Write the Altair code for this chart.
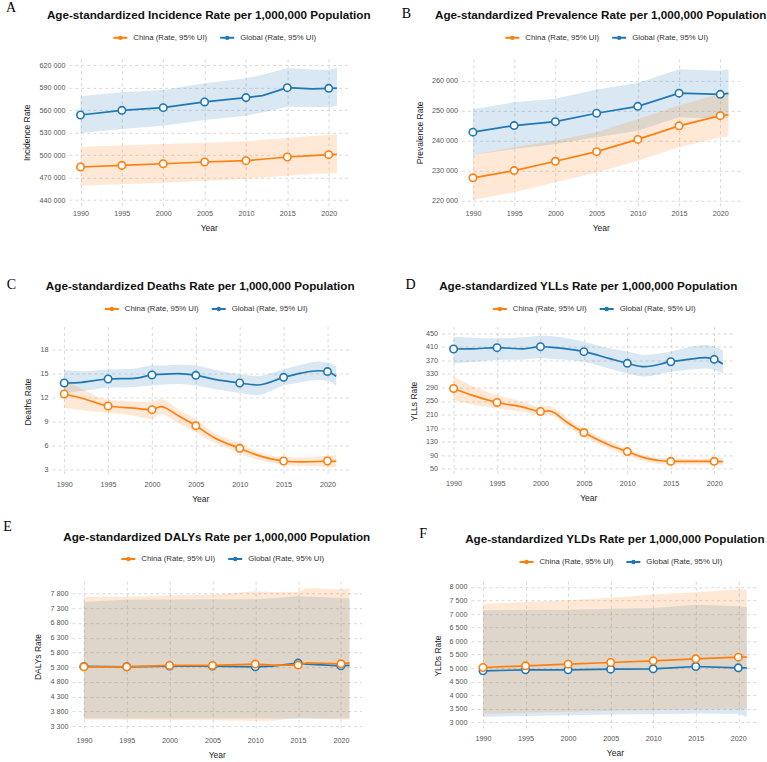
import altair as alt
import pandas as pd

CHINA = "China (Rate, 95% UI)"
GLOBAL = "Global (Rate, 95% UI)"
ORANGE = "#ff7f0e"
BLUE = "#1f77b4"
POINT_YEARS = [1990, 1995, 2000, 2005, 2010, 2015, 2020]
X_TICKS = [1990, 1995, 2000, 2005, 2010, 2015, 2020]

# ---- Incidence
INC_YEARS = [1990, 1995, 2000, 2005, 2010, 2012, 2015, 2018, 2020, 2021]
INC_CHINA = [484100, 486300, 488500, 490800, 492600, 494500, 497500, 499300, 500600, 501000]
INC_CHINA_LO = [459100, 461000, 463100, 465500, 468000, 470000, 472500, 474800, 475500, 476100]
INC_CHINA_HI = [511300, 513000, 514800, 516600, 518400, 520500, 522900, 525500, 526800, 527800]
INC_GLOBAL = [553600, 559800, 563400, 571000, 576800, 579500, 590100, 588500, 589200, 589500]
INC_GLOBAL_LO = [529500, 534900, 539300, 546900, 552700, 557000, 564700, 564000, 563800, 566100]
INC_GLOBAL_HI = [578600, 583900, 587000, 596000, 602200, 607500, 616000, 614500, 613800, 616400]

# ---- Prevalence
PRE_YEARS = [1990, 1995, 2000, 2005, 2010, 2015, 2020, 2021]
PRE_CHINA = [227600, 230000, 233100, 236300, 240400, 244900, 248300, 248600]
PRE_CHINA_LO = [220200, 222800, 226100, 229400, 233300, 237800, 241100, 241300]
PRE_CHINA_HI = [235200, 237800, 240000, 242800, 247200, 251700, 255600, 255800]
PRE_GLOBAL = [242800, 245000, 246300, 249100, 251400, 255800, 255400, 255700]
PRE_GLOBAL_LO = [235200, 237200, 238900, 241100, 243300, 247800, 247200, 247600]
PRE_GLOBAL_HI = [250400, 252800, 253900, 257000, 259200, 263800, 263300, 263800]

# ---- Deaths
DEA_YEARS = [1990, 1992, 1995, 1998, 2000, 2001, 2003, 2005, 2007, 2010, 2012, 2015, 2017, 2019, 2020, 2021]
DEA_CHINA = [12.43, 11.9, 10.92, 10.65, 10.46, 10.85, 9.7, 8.45, 7.0, 5.6, 4.75, 4.01, 3.9, 3.95, 4.01, 3.97]
DEA_CHINA_LO = [10.7, 10.4, 10.1, 9.7, 9.3, 9.9, 8.8, 7.6, 6.4, 5.0, 4.2, 3.55, 3.4, 3.35, 3.3, 3.25]
DEA_CHINA_HI = [14.1, 13.1, 11.7, 11.5, 11.4, 11.8, 10.5, 9.2, 7.6, 6.27, 5.2, 4.5, 4.45, 4.6, 4.7, 4.75]
DEA_GLOBAL = [13.81, 13.9, 14.31, 14.4, 14.82, 14.9, 14.98, 14.77, 14.3, 13.81, 13.56, 14.52, 15.05, 15.35, 15.24, 14.65]
DEA_GLOBAL_LO = [12.6, 12.8, 13.2, 13.3, 13.5, 13.6, 13.7, 13.5, 13.1, 12.55, 12.3, 13.5, 13.9, 14.2, 14.1, 13.4]
DEA_GLOBAL_HI = [15.4, 15.3, 15.5, 15.6, 16.0, 16.0, 16.1, 16.0, 15.5, 14.9, 14.7, 15.5, 16.1, 16.5, 16.4, 15.9]

# ---- YLLs
YLL_YEARS = [1990, 1992, 1995, 1998, 2000, 2001, 2003, 2005, 2008, 2010, 2012, 2015, 2017, 2019, 2020, 2021]
YLL_CHINA = [287, 268, 245.6, 232, 218.9, 220.5, 188, 156.7, 119, 100.4, 82, 71.7, 71.5, 71.5, 71.7, 70.7]
YLL_CHINA_LO = [253, 240, 228, 218, 208, 210, 176, 144, 108, 89.5, 72, 62, 62, 62, 62, 60]
YLL_CHINA_HI = [322, 296, 267, 248, 233, 235, 201, 168, 130, 109, 90, 80, 80, 80, 80, 82]
YLL_GLOBAL = [403.6, 404, 407.5, 404, 410.5, 409, 404, 395.7, 375, 361.1, 351.2, 366, 373, 378, 373, 359.1]
YLL_GLOBAL_LO = [361, 365, 371, 372, 376, 375, 372, 366, 345, 331, 322, 336, 342, 346, 342, 331]
YLL_GLOBAL_HI = [440, 437, 435, 438, 443, 442, 436, 425, 405, 396, 386, 396, 408, 415, 410, 400]

# ---- DALYs
DAL_YEARS = [1990, 1995, 2000, 2005, 2010, 2012, 2015, 2016, 2020, 2021]
DAL_CHINA = [5312, 5312, 5358, 5358, 5403, 5369, 5369, 5450, 5414, 5448]
DAL_CHINA_LO = [3526, 3515, 3503, 3495, 3469, 3480, 3582, 3560, 3520, 3526]
DAL_CHINA_HI = [7687, 7687, 7743, 7760, 7879, 7850, 7860, 7992, 7947, 7992]
DAL_GLOBAL = [5325, 5312, 5335, 5335, 5312, 5335, 5437, 5400, 5346, 5358]
DAL_GLOBAL_LO = [3560, 3560, 3555, 3560, 3560, 3555, 3550, 3560, 3560, 3560]
DAL_GLOBAL_HI = [7517, 7596, 7600, 7605, 7608, 7640, 7710, 7700, 7650, 7630]

# ---- YLDs
YLD_YEARS = [1990, 1995, 2000, 2005, 2010, 2015, 2020, 2021]
YLD_CHINA = [5025, 5086, 5148, 5210, 5272, 5346, 5407, 5407]
YLD_CHINA_LO = [3309, 3350, 3395, 3430, 3457, 3481, 3490, 3495]
YLD_CHINA_HI = [7383, 7440, 7506, 7600, 7716, 7802, 7901, 7901]
YLD_GLOBAL = [4901, 4938, 4938, 4963, 4975, 5062, 5012, 5012]
YLD_GLOBAL_LO = [3210, 3230, 3260, 3290, 3300, 3330, 3320, 3200]
YLD_GLOBAL_HI = [7136, 7150, 7160, 7190, 7222, 7346, 7284, 7260]

FONT = "Liberation Sans"
LEGEND_SYMBOL = ("M-1,0H1"
                 "M0.17,0A0.17,0.17,0,1,1,-0.17,0A0.17,0.17,0,1,1,0.17,0"
                 "M0.08,0A0.08,0.08,0,1,1,-0.08,0A0.08,0.08,0,1,1,0.08,0")


def make_frame(years, china, china_lo, china_hi, glob, glob_lo, glob_hi):
    rows = []
    # Global first so the China series is drawn on top
    for loc, v, lo, hi in [(GLOBAL, glob, glob_lo, glob_hi),
                           (CHINA, china, china_lo, china_hi)]:
        for yr, a, b, c in zip(years, v, lo, hi):
            rows.append({"year": yr, "loc": loc, "val": a, "lo": b, "hi": c})
    return pd.DataFrame(rows)


def panel(letter, title, ytitle, df, yticks, ydomain, width, height,
          letter_pos, title_y, legend_y, smooth):
    interp = "monotone" if smooth else "linear"
    colors = alt.Scale(domain=[CHINA, GLOBAL], range=[ORANGE, BLUE])
    x = alt.X("year:Q",
              scale=alt.Scale(domain=[1988.6, 2022.4], nice=False, zero=False),
              axis=alt.Axis(values=X_TICKS, format="d", title="Year"))
    yscale = alt.Scale(domain=ydomain, nice=False, zero=False)
    yaxis = alt.Axis(values=yticks, title=ytitle,
                     labelExpr="replace(format(datum.value, ','), ',', ' ')")

    base = alt.Chart(df)
    band = base.mark_area(opacity=0.17, interpolate=interp).encode(
        x=x,
        y=alt.Y("lo:Q", stack=None, scale=yscale, axis=yaxis),
        y2="hi:Q",
        color=alt.Color("loc:N", scale=colors, legend=None),
    )
    line = base.mark_line(strokeWidth=1.7, interpolate=interp).encode(
        x=x,
        y=alt.Y("val:Q", scale=yscale, axis=yaxis),
        color=alt.Color(
            "loc:N", scale=colors,
            legend=alt.Legend(
                title=None, orient="none", direction="horizontal",
                legendX=(width - 193) / 2, legendY=legend_y,
                symbolType=LEGEND_SYMBOL, symbolSize=196, symbolStrokeWidth=2,
                labelFontSize=7.8, labelColor="#333333", labelOffset=5,
                columnPadding=8,
            ),
        ),
    )
    pts = base.mark_point(shape="circle", size=55, strokeWidth=1.6,
                          opacity=1).encode(
        x=x,
        y=alt.Y("val:Q", scale=yscale, axis=yaxis),
        stroke=alt.Stroke("loc:N", scale=colors, legend=None),
        fill=alt.value("white"),
        fillOpacity=alt.value(1),
    ).transform_filter(alt.FieldOneOfPredicate(field="year", oneOf=POINT_YEARS))

    tag = alt.Chart(pd.DataFrame({"tag": [letter]})).mark_text(
        font="Liberation Serif", fontSize=14, align="center",
        baseline="middle", color="black",
    ).encode(x=alt.value(letter_pos[0]), y=alt.value(letter_pos[1]),
             text="tag:N")

    # the panel tag sits above the title, so the title offset is counted
    # from the tag's top edge
    offset = letter_pos[1] - 13 - title_y
    return alt.layer(band, line, pts, tag).resolve_legend(
        color="independent"
    ).properties(
        width=width, height=height,
        title=alt.TitleParams(title, fontSize=11.7, fontWeight="bold",
                              anchor="middle", frame="group", offset=offset,
                              color="#111111"),
    )


def gap(width):
    # empty cell that sets the left margin of a row
    return alt.Chart(pd.DataFrame({"g": [0]})).mark_rect(opacity=0).encode(
        x=alt.value(0), x2=alt.value(width), y=alt.value(0), y2=alt.value(1)
    ).properties(width=width, height=1)


pA = panel("A", "Age-standardized Incidence Rate per 1,000,000 Population",
           "Incidence Rate",
           make_frame(INC_YEARS, INC_CHINA, INC_CHINA_LO, INC_CHINA_HI,
                      INC_GLOBAL, INC_GLOBAL_LO, INC_GLOBAL_HI),
           [440000, 470000, 500000, 530000, 560000, 590000, 620000],
           [432400, 628500], 280, 147, (-58, -51), -43, -29.5, False)
pB = panel("B", "Age-standardized Prevalence Rate per 1,000,000 Population",
           "Prevalence Rate",
           make_frame(PRE_YEARS, PRE_CHINA, PRE_CHINA_LO, PRE_CHINA_HI,
                      PRE_GLOBAL, PRE_GLOBAL_LO, PRE_GLOBAL_HI),
           [220000, 230000, 240000, 250000, 260000],
           [218300, 267200], 279, 147, (-55, -45), -43, -29.5, False)
pC = panel("C", "Age-standardized Deaths Rate per 1,000,000 Population",
           "Deaths Rate",
           make_frame(DEA_YEARS, DEA_CHINA, DEA_CHINA_LO, DEA_CHINA_HI,
                      DEA_GLOBAL, DEA_GLOBAL_LO, DEA_GLOBAL_HI),
           [3, 6, 9, 12, 15, 18], [2.08, 20.9], 297, 150, (-40.5, -42), -40,
           -26, True)
pD = panel("D", "Age-standardized YLLs Rate per 1,000,000 Population",
           "YLLs Rate",
           make_frame(YLL_YEARS, YLL_CHINA, YLL_CHINA_LO, YLL_CHINA_HI,
                      YLL_GLOBAL, YLL_GLOBAL_LO, YLL_GLOBAL_HI),
           [50, 90, 130, 170, 210, 250, 290, 330, 370, 410, 450],
           [30.2, 469.8], 294, 149, (-31, -42), -40, -26, True)
pE = panel("E", "Age-standardized DALYs Rate per 1,000,000 Population",
           "DALYs Rate",
           make_frame(DAL_YEARS, DAL_CHINA, DAL_CHINA_LO, DAL_CHINA_HI,
                      DAL_GLOBAL, DAL_GLOBAL_LO, DAL_GLOBAL_HI),
           [3300, 3800, 4300, 4800, 5300, 5800, 6300, 6800, 7300, 7800],
           [3096, 8218], 290, 151, (-64.5, -54), -44, -30.7, False)
pF = panel("F", "Age-standardized YLDs Rate per 1,000,000 Population",
           "YLDs Rate",
           make_frame(YLD_YEARS, YLD_CHINA, YLD_CHINA_LO, YLD_CHINA_HI,
                      YLD_GLOBAL, YLD_GLOBAL_LO, YLD_GLOBAL_HI),
           [3000, 3500, 4000, 4500, 5000, 5500, 6000, 6500, 7000, 7500, 8000],
           [2716, 8210], 288, 149, (-48, -47), -42, -27.7, False)

row1 = alt.hconcat(alt.hconcat(gap(5), pA, spacing=0), pB, spacing=30)
row2 = alt.hconcat(alt.hconcat(gap(5.8), pC, spacing=0), pD, spacing=49)
row3 = alt.hconcat(alt.hconcat(gap(2.5), pE, spacing=0), pF, spacing=48.7)

chart = alt.vconcat(
    alt.vconcat(row1, row2, spacing=45),
    row3, spacing=17,
).properties(
    padding={"left": 0, "top": 0.5, "right": 0, "bottom": 0},
).configure(font=FONT).configure_view(stroke=None).configure_axis(
    grid=True, gridDash=[3, 3], gridColor="#cfcfcf", gridWidth=0.8,
    domain=False, ticks=False,
    labelFontSize=7.2, labelColor="#555555", labelFont=FONT, labelPadding=4,
    titleFontSize=8.5, titleFontWeight="normal", titleColor="#1a1a1a",
    titleFont=FONT, titlePadding=7,
).configure_legend(labelFont=FONT)

chart.save("out.html", embed_options={"renderer": "svg", "actions": False})
